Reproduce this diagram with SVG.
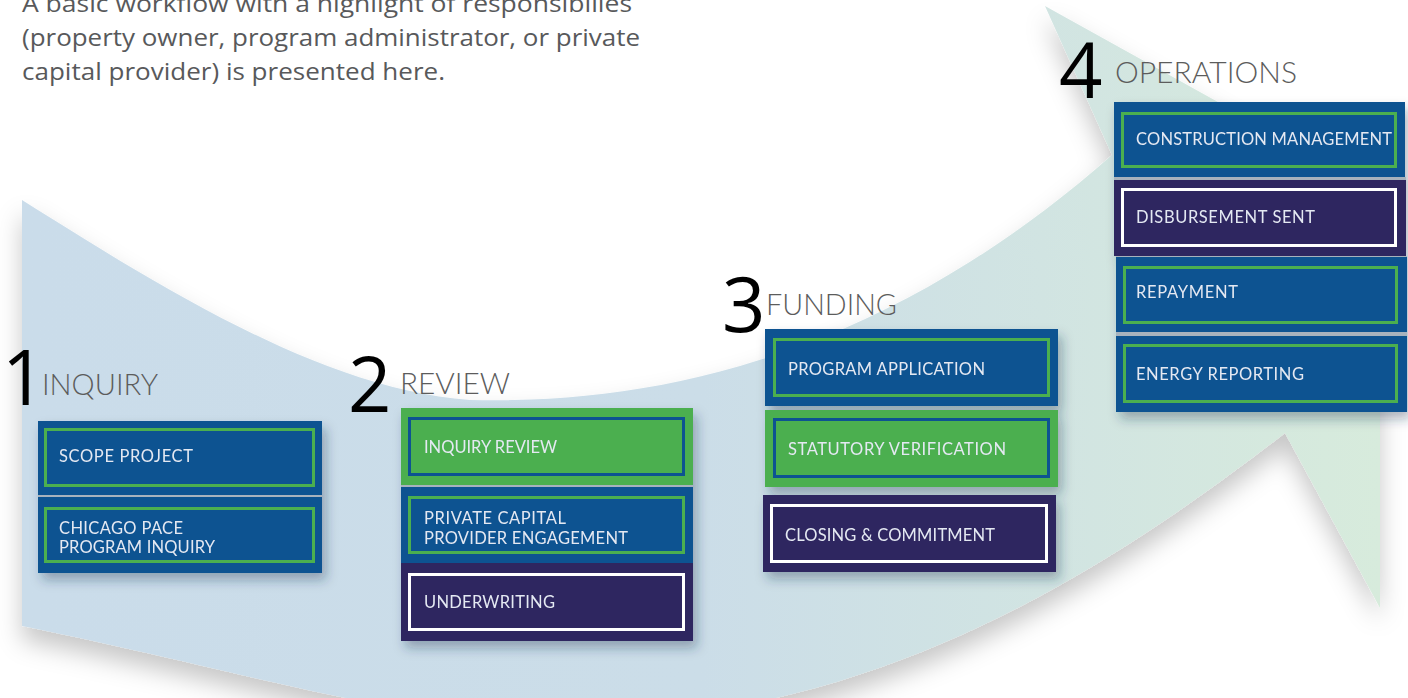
<svg xmlns="http://www.w3.org/2000/svg" width="1408" height="698" viewBox="0 0 1408 698">
<defs>
<linearGradient id="arrowGrad" x1="22" y1="0" x2="1380" y2="0" gradientUnits="userSpaceOnUse">
<stop offset="0" stop-color="#cadcea"/>
<stop offset="0.5" stop-color="#cbdde8"/>
<stop offset="1" stop-color="#d7ebdc"/>
</linearGradient>
<filter id="arrowShadow" x="-10%" y="-10%" width="120%" height="130%">
<feDropShadow dx="0" dy="14" stdDeviation="12" flood-color="#000" flood-opacity="0.22"/>
</filter>
<filter id="boxShadow" x="-10%" y="-10%" width="125%" height="130%">
<feDropShadow dx="4" dy="7" stdDeviation="6" flood-color="#1c3350" flood-opacity="0.35"/>
</filter>
<style>
.blue{fill:#0f5291}
.green{fill:#4caf50}
.purple{fill:#2e2561}
.gap{fill:#a7b2bd}
.inG{fill:none;stroke:#4caf50;stroke-width:3}
.inB{fill:none;stroke:#0f5291;stroke-width:3}
.inW{fill:none;stroke:#ffffff;stroke-width:3}
.lbl{font-family:Lato,"Open Sans",sans-serif;font-size:16.5px;fill:#e4e9f2}
.num{font-family:"Open Sans","Noto Sans",sans-serif;font-size:76px;fill:#000}
.head{font-family:Lato,"Open Sans",sans-serif;font-weight:300;font-size:29px;fill:#5c5c5c}
.para{font-family:"Open Sans","Noto Sans",sans-serif;font-size:24px;fill:#58595b}
</style>
</defs>
<rect width="1408" height="698" fill="#ffffff"/>

<g id="background-arrow">
<path filter="url(#arrowShadow)" fill="url(#arrowGrad)" d="M22,200 C150,280 320,390 470,400 C650,405 880,360 1112,155 L1045,6 L1380,192 L1380,608 L1285,433 C1120,560 880,725 560,722 C420,728 250,672 22,626 Z"/>
</g>

<g id="intro-text">
<text class="para" x="22" y="12" textLength="610" lengthAdjust="spacingAndGlyphs">A basic workflow with a highlight of responsibilies</text>
<text class="para" x="22" y="46" textLength="618" lengthAdjust="spacingAndGlyphs">(property owner, program administrator, or private</text>
<text class="para" x="22" y="80" textLength="423" lengthAdjust="spacingAndGlyphs">capital provider) is presented here.</text>
</g>

<g id="connectors"></g>

<g id="heading-1">
<text class="num" x="2" y="405">1</text>
<text class="head" x="42" y="395" textLength="116" lengthAdjust="spacingAndGlyphs">INQUIRY</text>
</g>
<g id="heading-2">
<text class="num" x="348" y="412">2</text>
<text class="head" x="400" y="394" textLength="110" lengthAdjust="spacingAndGlyphs">REVIEW</text>
</g>
<g id="heading-3">
<text class="num" x="722" y="332">3</text>
<text class="head" x="766" y="315" textLength="131" lengthAdjust="spacingAndGlyphs">FUNDING</text>
</g>
<g id="heading-4">
<text class="num" x="1059" y="98">4</text>
<text class="head" x="1115" y="83" textLength="182" lengthAdjust="spacingAndGlyphs">OPERATIONS</text>
</g>

<g id="stage-1" filter="url(#boxShadow)">
<g id="scope-project">
<rect class="blue" x="38" y="421" width="284" height="74"/>
<rect class="inG" x="45.5" y="429.5" width="268" height="56"/>
<text class="lbl" x="59" y="462" textLength="134" lengthAdjust="spacing">SCOPE PROJECT</text>
</g>
<rect class="gap" x="38" y="495" width="284" height="2"/>
<g id="chicago-pace-program-inquiry">
<rect class="blue" x="38" y="497" width="284" height="76"/>
<rect class="inG" x="45.5" y="508.5" width="268" height="53"/>
<text class="lbl" x="59" y="534" textLength="124" lengthAdjust="spacing">CHICAGO PACE</text>
<text class="lbl" x="59" y="553" textLength="156" lengthAdjust="spacing">PROGRAM INQUIRY</text>
</g>
</g>

<g id="stage-2" filter="url(#boxShadow)">
<g id="inquiry-review">
<rect class="green" x="401" y="408" width="292" height="77"/>
<rect class="inB" x="409.5" y="418.5" width="274" height="56"/>
<text class="lbl" x="424" y="453" textLength="133" lengthAdjust="spacing">INQUIRY REVIEW</text>
</g>
<rect class="gap" x="401" y="485" width="292" height="2"/>
<g id="private-capital-provider-engagement">
<rect class="blue" x="401" y="487" width="292" height="76"/>
<rect class="inG" x="409.5" y="497.5" width="274" height="55"/>
<text class="lbl" x="424" y="524" textLength="142" lengthAdjust="spacing">PRIVATE CAPITAL</text>
<text class="lbl" x="424" y="544" textLength="204" lengthAdjust="spacing">PROVIDER ENGAGEMENT</text>
</g>
<g id="underwriting">
<rect class="purple" x="401" y="563" width="292" height="78"/>
<rect class="inW" x="409.5" y="574.5" width="274" height="55"/>
<text class="lbl" x="424" y="608" textLength="131" lengthAdjust="spacing">UNDERWRITING</text>
</g>
</g>

<g id="stage-3" filter="url(#boxShadow)">
<g id="program-application">
<rect class="blue" x="765" y="329" width="293" height="77"/>
<rect class="inG" x="774.5" y="339.5" width="274" height="56"/>
<text class="lbl" x="788" y="375" textLength="197" lengthAdjust="spacing">PROGRAM APPLICATION</text>
</g>
<g id="statutory-verification">
<rect class="green" x="765" y="410" width="293" height="77"/>
<rect class="inB" x="774.5" y="419.5" width="274" height="57"/>
<text class="lbl" x="788" y="455" textLength="218" lengthAdjust="spacing">STATUTORY VERIFICATION</text>
</g>
<g id="closing-commitment">
<rect class="purple" x="763" y="495" width="293" height="77"/>
<rect class="inW" x="771.5" y="505.5" width="275" height="56"/>
<text class="lbl" x="785" y="541" textLength="210" lengthAdjust="spacing">CLOSING &amp; COMMITMENT</text>
</g>
</g>

<g id="stage-4" filter="url(#boxShadow)">
<g id="construction-management">
<rect class="blue" x="1114" y="102" width="291" height="75"/>
<rect class="inG" x="1122.5" y="113.5" width="273" height="53"/>
<text class="lbl" x="1136" y="145" textLength="256" lengthAdjust="spacing">CONSTRUCTION MANAGEMENT</text>
</g>
<rect class="gap" x="1114" y="177" width="292" height="3"/>
<g id="disbursement-sent">
<rect class="purple" x="1114" y="180" width="292" height="76"/>
<rect class="inW" x="1122.5" y="189.5" width="273" height="56"/>
<text class="lbl" x="1136" y="223" textLength="179" lengthAdjust="spacing">DISBURSEMENT SENT</text>
</g>
<rect class="gap" x="1116" y="256" width="291" height="1"/>
<g id="repayment">
<rect class="blue" x="1116" y="257" width="291" height="75"/>
<rect class="inG" x="1124.5" y="267.5" width="272" height="55"/>
<text class="lbl" x="1136" y="298" textLength="102" lengthAdjust="spacing">REPAYMENT</text>
</g>
<rect class="gap" x="1116" y="332" width="291" height="4"/>
<g id="energy-reporting">
<rect class="blue" x="1116" y="336" width="291" height="76"/>
<rect class="inG" x="1124.5" y="345.5" width="272" height="56"/>
<text class="lbl" x="1136" y="380" textLength="168" lengthAdjust="spacing">ENERGY REPORTING</text>
</g>
</g>
</svg>
